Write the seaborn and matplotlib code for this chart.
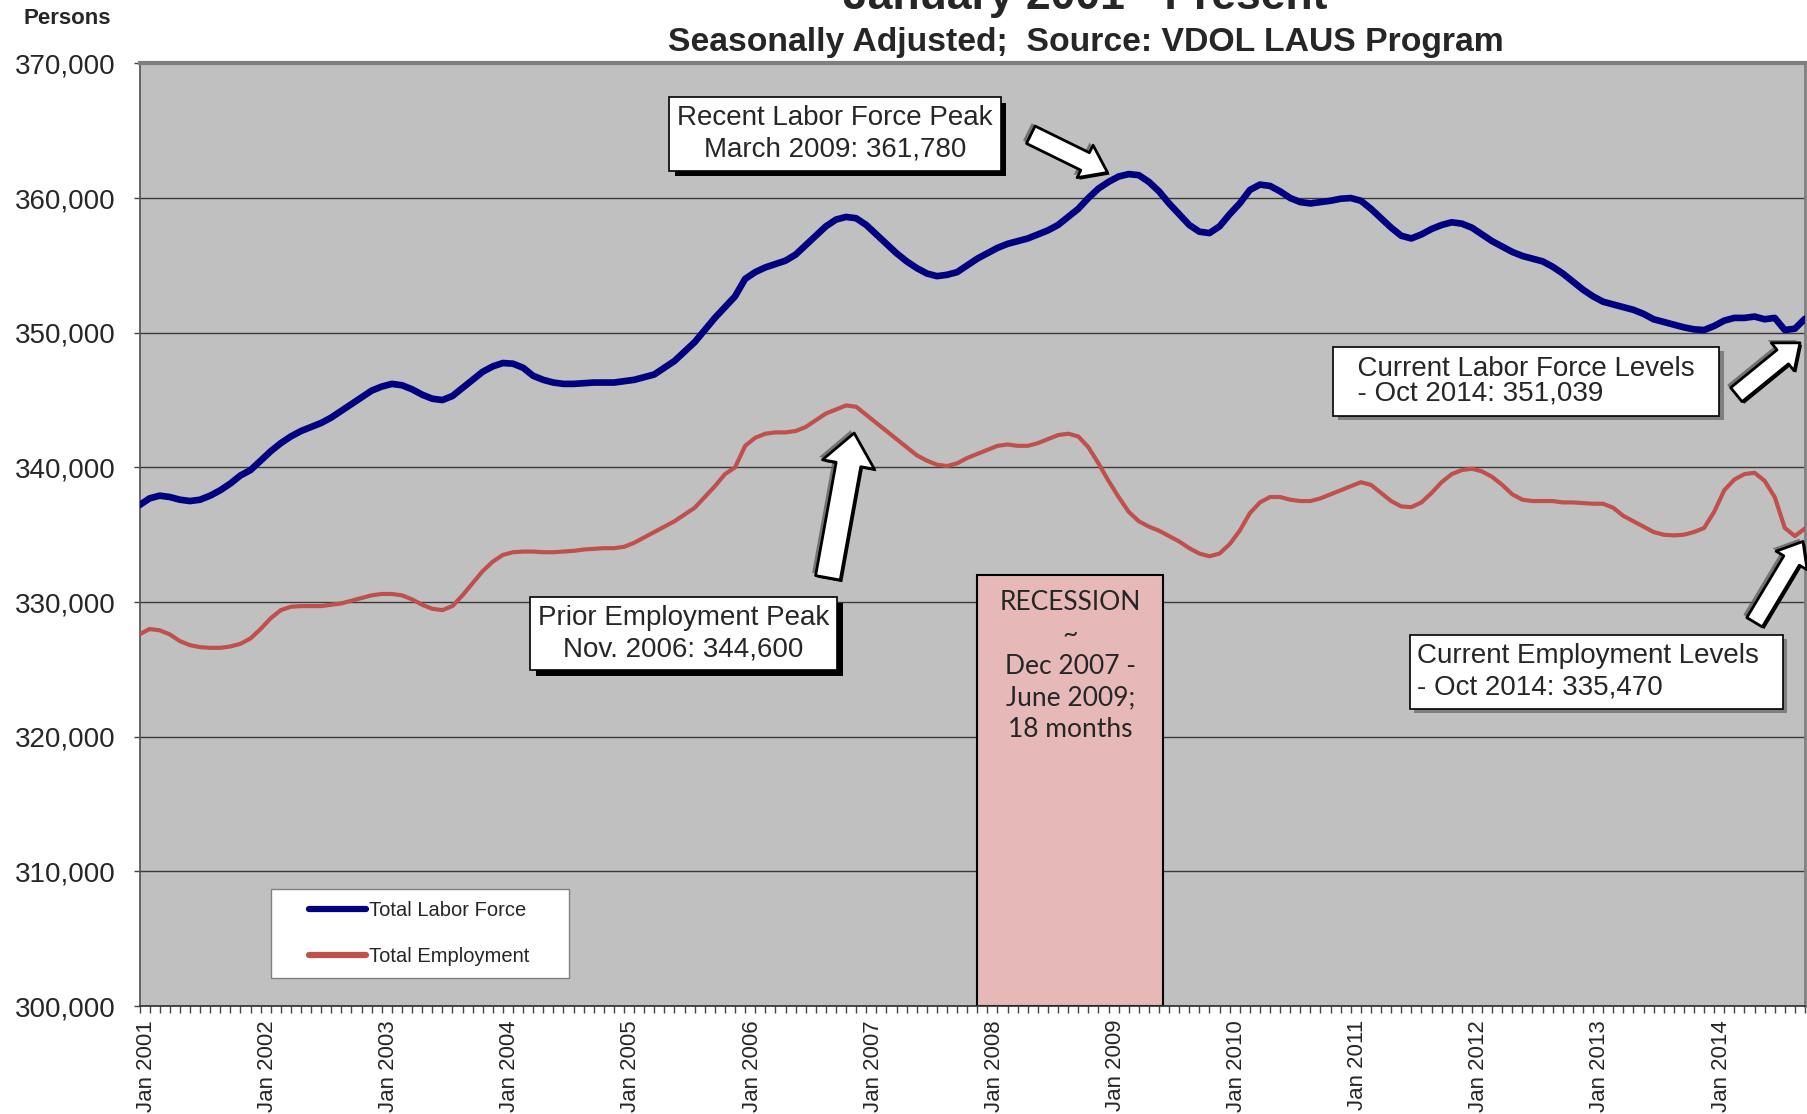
import numpy as np
import pandas as pd
import seaborn as sns
import matplotlib.pyplot as plt
import matplotlib.ticker as mticker
import matplotlib.patheffects as pe
import matplotlib.transforms as mtransforms
from matplotlib.patches import Rectangle
from matplotlib.lines import Line2D
from matplotlib.legend_handler import HandlerLine2D

# monthly values, thousands of persons, Jan 2001 - Oct 2014
labor_force_k = [
    337.2, 337.7, 337.9, 337.8, 337.6, 337.5, 337.6, 337.9, 338.3, 338.8, 339.4, 339.8,
    340.5, 341.2, 341.8, 342.3, 342.7, 343.0, 343.3, 343.7, 344.2, 344.7, 345.2, 345.7,
    346.0, 346.2, 346.1, 345.8, 345.4, 345.1, 345.0, 345.3, 345.9, 346.5, 347.1, 347.5,
    347.75, 347.7, 347.4, 346.8, 346.5, 346.3, 346.2, 346.2, 346.25, 346.3, 346.3, 346.3,
    346.4, 346.5, 346.7, 346.9, 347.4, 347.9, 348.6, 349.3, 350.2, 351.1, 351.9, 352.7,
    354.0, 354.5, 354.85, 355.1, 355.35, 355.8, 356.5, 357.2, 357.9, 358.4, 358.6, 358.5,
    358.0, 357.3, 356.6, 355.9, 355.3, 354.8, 354.4, 354.2, 354.3, 354.5, 355.0, 355.5,
    355.9, 356.3, 356.6, 356.8, 357.0, 357.3, 357.6, 358.0, 358.6, 359.2, 360.0, 360.7,
    361.2, 361.6, 361.78, 361.7, 361.2, 360.5, 359.6, 358.8, 358.0, 357.5, 357.4, 357.9,
    358.8, 359.6, 360.6, 361.0, 360.9, 360.5, 360.0, 359.7, 359.6, 359.7, 359.8, 359.95,
    360.0, 359.8, 359.2, 358.5, 357.8, 357.2, 357.0, 357.3, 357.7, 358.0, 358.2, 358.1,
    357.8, 357.3, 356.8, 356.4, 356.0, 355.7, 355.5, 355.3, 354.9, 354.4, 353.8, 353.2,
    352.7, 352.3, 352.1, 351.9, 351.7, 351.4, 351.0, 350.8, 350.6, 350.4, 350.25, 350.2,
    350.5, 350.9, 351.1, 351.1, 351.2, 351.0, 351.1, 350.2, 350.3, 351.039,
]
employment_k = [
    327.6, 328.0, 327.9, 327.6, 327.1, 326.8, 326.65, 326.6, 326.6, 326.7, 326.9, 327.3,
    328.0, 328.8, 329.4, 329.65, 329.7, 329.7, 329.7, 329.8, 329.9, 330.1, 330.3, 330.5,
    330.6, 330.6, 330.5, 330.2, 329.8, 329.5, 329.4, 329.7, 330.5, 331.4, 332.3, 333.0,
    333.5, 333.7, 333.75, 333.75, 333.7, 333.7, 333.75, 333.8, 333.9, 333.95, 334.0, 334.0,
    334.1, 334.4, 334.8, 335.2, 335.6, 336.0, 336.5, 337.0, 337.8, 338.6, 339.5, 340.0,
    341.6, 342.2, 342.5, 342.6, 342.6, 342.7, 343.0, 343.5, 344.0, 344.3, 344.6, 344.5,
    343.9, 343.3, 342.7, 342.1, 341.5, 340.9, 340.5, 340.2, 340.1, 340.3, 340.7, 341.0,
    341.3, 341.6, 341.7, 341.6, 341.6, 341.8, 342.1, 342.4, 342.5, 342.3, 341.5, 340.3,
    339.0, 337.8, 336.7, 336.0, 335.6, 335.3, 334.9, 334.5, 334.0, 333.6, 333.4, 333.6,
    334.3, 335.3, 336.6, 337.4, 337.8, 337.8, 337.6, 337.5, 337.5, 337.7, 338.0, 338.3,
    338.6, 338.9, 338.7, 338.1, 337.5, 337.1, 337.05, 337.4, 338.1, 338.9, 339.5, 339.8,
    339.9, 339.7, 339.3, 338.7, 338.0, 337.6, 337.5, 337.5, 337.5, 337.4, 337.4, 337.35,
    337.3, 337.3, 337.0, 336.4, 336.0, 335.6, 335.2, 335.0, 334.95, 335.0, 335.2, 335.5,
    336.7, 338.3, 339.1, 339.5, 339.6, 339.0, 337.8, 335.5, 334.9, 335.47,
]
years = list(range(2001, 2015))
year_labels = ["Jan %d" % y for y in years]
recession_start = 83    # Dec 2007 (month index)
recession_end = 101.4   # June 2009

df = pd.DataFrame({
    "month": np.arange(len(labor_force_k)),
    "Total Labor Force": np.array(labor_force_k) * 1000,
    "Total Employment": np.array(employment_k) * 1000,
})

sns.set_theme(style="white")
plt.rcParams["font.family"] = ["Liberation Sans", "DejaVu Sans"]

fig = plt.figure(figsize=(18.07, 11.14), dpi=100)
ax = fig.add_axes([0.0772, 0.0969, 0.9217, 0.8462])
ax.set_facecolor("#C0C0C0")
ax.set_axisbelow(True)

sns.lineplot(data=df, x="month", y="Total Labor Force", color="#000080", lw=4.8, ax=ax, zorder=3)
sns.lineplot(data=df, x="month", y="Total Employment", color="#C0504D", lw=3.0, ax=ax, zorder=3)

ax.add_patch(Rectangle((recession_start, 300000), recession_end - recession_start, 32000,
                       fc="#E6B8B7", ec="black", lw=1.5, zorder=1))
ax.text((recession_start + recession_end) / 2, 330900,
        "RECESSION\n~\nDec 2007 -\nJune 2009;\n18 months",
        ha="center", va="top", fontsize=19, family=["Lato", "DejaVu Sans"], linespacing=1.34, zorder=2)

ax.set_xlim(0, len(labor_force_k) - 1)
ax.set_ylim(300000, 370000)
ax.yaxis.set_major_locator(mticker.MultipleLocator(10000))
ax.yaxis.set_major_formatter(mticker.StrMethodFormatter("{x:,.0f}"))
ax.set_xticks(np.arange(len(years)) * 12)
ax.set_xticklabels(year_labels, rotation=90, fontsize=16)
ax.xaxis.set_minor_locator(mticker.MultipleLocator(1))
ax.tick_params(axis="x", which="both", direction="out", length=5, width=1, color="#444444",
               bottom=True, pad=5)
ax.tick_params(axis="y", direction="out", length=4, width=1, color="#444444", left=True,
               pad=13, labelsize=20)
shift = mtransforms.ScaledTranslation(5 / 72, 0, fig.dpi_scale_trans)
for lab in ax.get_xticklabels():
    lab.set_transform(lab.get_transform() + shift)
ax.set_xlabel("")
ax.set_ylabel("")
ax.grid(axis="y", color="#3a3a3a", lw=1)
ax.grid(axis="x", visible=False)

ax.spines["top"].set_color("#7f7f7f")
ax.spines["top"].set_linewidth(3)
ax.spines["left"].set_color("#555555")
ax.spines["bottom"].set_color("#333333")
ax.spines["right"].set_color("#7f7f7f")
ax.spines["right"].set_linewidth(2)

handles = [Line2D([], [], color="#000080", lw=4.5, solid_capstyle="round"),
           Line2D([], [], color="#C0504D", lw=4.5, solid_capstyle="round")]
leg = ax.legend(handles, ["Total Labor Force     ", "Total Employment     "], loc="lower left",
                bbox_to_anchor=(0.079, 0.0297), borderaxespad=0, fontsize=14.5, frameon=True,
                fancybox=False, edgecolor="#808080", facecolor="white", framealpha=1,
                handlelength=4.1, handletextpad=0.15, labelspacing=1.35, borderpad=0.6,
                handler_map={Line2D: HandlerLine2D(xpad=1.3)})
leg.get_frame().set_linewidth(1)

black_shadow = [pe.withSimplePatchShadow(offset=(4, -4), shadow_rgbFace="black", alpha=1)]
grey_shadow = [pe.withSimplePatchShadow(offset=(3, -3), shadow_rgbFace="#555555", alpha=0.6)]

notes = [
    (68.9, 364760, "Recent Labor Force Peak\nMarch 2009: 361,780", "center", 0.28, 1.28, black_shadow),
    (53.9, 327640, "Prior Employment Peak\nNov. 2006: 344,600", "center", 0.28, 1.28, black_shadow),
    (137.4, 346380, "  Current Labor Force Levels  \n  - Oct 2014: 351,039", "left", 0.32, 0.95, grey_shadow),
    (144.3, 324820, "Current Employment Levels  \n- Oct 2014: 335,470", "left", 0.28, 1.3, grey_shadow),
]
for x, y, txt, align, pad, ls, shadow in notes:
    t = ax.text(x, y, txt, ha="center", va="center", multialignment=align, fontsize=20,
                linespacing=ls, zorder=5,
                bbox=dict(boxstyle="square,pad=%s" % pad, fc="white", ec="black", lw=1.2))
    t.get_bbox_patch().set_path_effects(shadow)

arrows = [
    ((95.9, 361900), (88.3, 364700), 18, 26, 14),
    ((70.8, 342550), (68.2, 331800), 23, 38, 18),
    ((164.5, 349250), (158.2, 345400), 16, 26, 13),
    ((164.8, 334500), (160.0, 328500), 16, 26, 13),
]
for head, tail, hl, hw, tw in arrows:
    ann = ax.annotate("", xy=head, xytext=tail, zorder=6,
                      arrowprops=dict(arrowstyle="simple,head_length=%s,head_width=%s,tail_width=%s" % (hl, hw, tw),
                                      fc="white", ec="black", lw=2, shrinkA=0, shrinkB=0,
                                      mutation_scale=1))
    ann.arrow_patch.set_path_effects([
        pe.SimplePatchShadow(offset=(-2.5, 2), shadow_rgbFace="#606060", alpha=0.8),
        pe.SimplePatchShadow(offset=(1.5, -1.5), shadow_rgbFace="black", alpha=1),
        pe.Normal(),
    ])

fig.text(0.6008, 0.9919, "January 2001 - Present", ha="center", va="baseline",
         fontsize=32, fontweight="bold")
fig.text(0.6008, 0.962, "Seasonally Adjusted;  Source: VDOL LAUS Program", ha="center",
         va="center", fontsize=24.3, fontweight="bold")
fig.text(0.0374, 0.983, "Persons", ha="center", va="center", fontsize=16, fontweight="bold")

fig.savefig("out.png", dpi=100)
